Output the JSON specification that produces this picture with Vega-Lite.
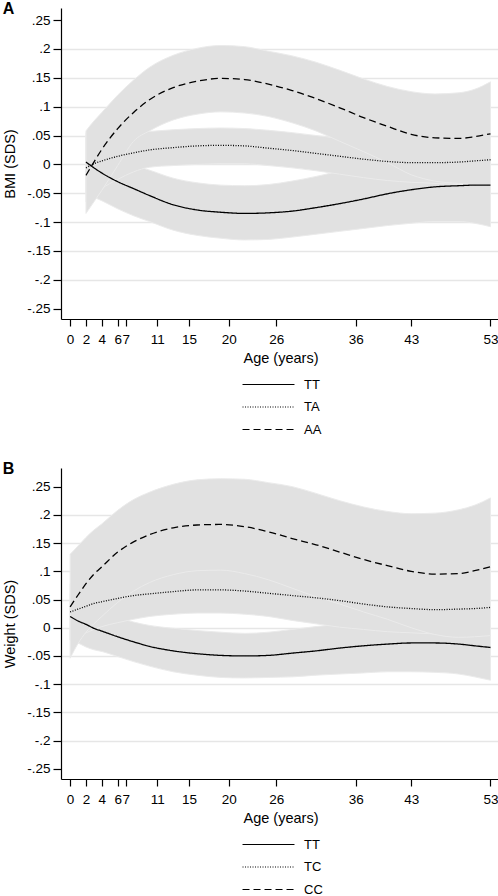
{
  "$schema": "https://vega.github.io/schema/vega-lite/v6.json",
  "background": "white",
  "padding": {"left": 2, "top": 1, "right": 0, "bottom": 0},
  "config": {
    "font": "Liberation Sans",
    "view": {"stroke": null},
    "concat": {"spacing": 24},
    "axis": {
      "domainColor": "black", "tickColor": "black", "labelColor": "black", "titleColor": "black",
      "labelFont": "Liberation Sans", "titleFont": "Liberation Sans",
      "labelFontSize": 13.5, "titleFontSize": 14.5, "titleFontWeight": "normal",
      "domainWidth": 1.2, "tickWidth": 1.2, "grid": false, "labelOverlap": false
    },
    "axisY": {"labelOverlap": false},
    "legend": {"labelFont": "Liberation Sans", "labelColor": "black"},
    "title": {"font": "Liberation Sans", "fontSize": 16, "fontWeight": "bold", "color": "black", "anchor": "start", "frame": "bounds", "offset": -9, "baseline": "alphabetic"}
  },
  "datasets": {
    "A": [
      {"a":2,"g":"TT","m":0.004,"lo":-0.050,"hi":0.055},
      {"a":3,"g":"TT","m":-0.006,"lo":-0.057,"hi":0.042},
      {"a":4,"g":"TT","m":-0.015,"lo":-0.063,"hi":0.030},
      {"a":6,"g":"TT","m":-0.030,"lo":-0.077,"hi":0.012},
      {"a":8,"g":"TT","m":-0.042,"lo":-0.089,"hi":-0.001},
      {"a":10,"g":"TT","m":-0.054,"lo":-0.099,"hi":-0.010},
      {"a":13,"g":"TT","m":-0.070,"lo":-0.114,"hi":-0.024},
      {"a":16,"g":"TT","m":-0.079,"lo":-0.123,"hi":-0.032},
      {"a":19,"g":"TT","m":-0.083,"lo":-0.128,"hi":-0.036},
      {"a":22,"g":"TT","m":-0.085,"lo":-0.131,"hi":-0.037},
      {"a":25,"g":"TT","m":-0.084,"lo":-0.130,"hi":-0.035},
      {"a":28,"g":"TT","m":-0.081,"lo":-0.126,"hi":-0.029},
      {"a":31,"g":"TT","m":-0.075,"lo":-0.121,"hi":-0.021},
      {"a":34,"g":"TT","m":-0.068,"lo":-0.116,"hi":-0.012},
      {"a":37,"g":"TT","m":-0.060,"lo":-0.111,"hi":-0.005},
      {"a":40,"g":"TT","m":-0.051,"lo":-0.106,"hi":0.002},
      {"a":43,"g":"TT","m":-0.044,"lo":-0.102,"hi":0.009},
      {"a":46,"g":"TT","m":-0.039,"lo":-0.099,"hi":0.016},
      {"a":49,"g":"TT","m":-0.037,"lo":-0.099,"hi":0.023},
      {"a":51,"g":"TT","m":-0.036,"lo":-0.102,"hi":0.028},
      {"a":53,"g":"TT","m":-0.036,"lo":-0.108,"hi":0.034},
      {"a":2,"g":"TA","m":-0.006,"lo":-0.065,"hi":0.050},
      {"a":3,"g":"TA","m":0.001,"lo":-0.053,"hi":0.052},
      {"a":4,"g":"TA","m":0.006,"lo":-0.042,"hi":0.054},
      {"a":6,"g":"TA","m":0.014,"lo":-0.026,"hi":0.055},
      {"a":8,"g":"TA","m":0.020,"lo":-0.013,"hi":0.055},
      {"a":10,"g":"TA","m":0.025,"lo":-0.005,"hi":0.057},
      {"a":13,"g":"TA","m":0.029,"lo":-0.002,"hi":0.060},
      {"a":16,"g":"TA","m":0.032,"lo":0.000,"hi":0.062},
      {"a":19,"g":"TA","m":0.033,"lo":0.001,"hi":0.063},
      {"a":22,"g":"TA","m":0.032,"lo":0.001,"hi":0.062},
      {"a":25,"g":"TA","m":0.028,"lo":-0.002,"hi":0.059},
      {"a":28,"g":"TA","m":0.024,"lo":-0.006,"hi":0.055},
      {"a":31,"g":"TA","m":0.019,"lo":-0.011,"hi":0.050},
      {"a":34,"g":"TA","m":0.014,"lo":-0.017,"hi":0.045},
      {"a":37,"g":"TA","m":0.009,"lo":-0.023,"hi":0.040},
      {"a":40,"g":"TA","m":0.005,"lo":-0.028,"hi":0.037},
      {"a":43,"g":"TA","m":0.003,"lo":-0.031,"hi":0.036},
      {"a":46,"g":"TA","m":0.003,"lo":-0.033,"hi":0.037},
      {"a":49,"g":"TA","m":0.004,"lo":-0.035,"hi":0.042},
      {"a":51,"g":"TA","m":0.006,"lo":-0.036,"hi":0.047},
      {"a":53,"g":"TA","m":0.008,"lo":-0.037,"hi":0.053},
      {"a":2,"g":"AA","m":-0.019,"lo":-0.085,"hi":0.058},
      {"a":3,"g":"AA","m":0.004,"lo":-0.065,"hi":0.075},
      {"a":4,"g":"AA","m":0.026,"lo":-0.045,"hi":0.090},
      {"a":6,"g":"AA","m":0.062,"lo":-0.002,"hi":0.120},
      {"a":8,"g":"AA","m":0.090,"lo":0.040,"hi":0.146},
      {"a":10,"g":"AA","m":0.112,"lo":0.058,"hi":0.168},
      {"a":13,"g":"AA","m":0.133,"lo":0.077,"hi":0.189},
      {"a":16,"g":"AA","m":0.144,"lo":0.087,"hi":0.201},
      {"a":19,"g":"AA","m":0.149,"lo":0.091,"hi":0.206},
      {"a":22,"g":"AA","m":0.147,"lo":0.089,"hi":0.204},
      {"a":25,"g":"AA","m":0.139,"lo":0.083,"hi":0.196},
      {"a":28,"g":"AA","m":0.128,"lo":0.072,"hi":0.188},
      {"a":31,"g":"AA","m":0.114,"lo":0.058,"hi":0.177},
      {"a":34,"g":"AA","m":0.098,"lo":0.040,"hi":0.163},
      {"a":37,"g":"AA","m":0.081,"lo":0.022,"hi":0.148},
      {"a":40,"g":"AA","m":0.066,"lo":0.003,"hi":0.135},
      {"a":43,"g":"AA","m":0.052,"lo":-0.018,"hi":0.126},
      {"a":46,"g":"AA","m":0.046,"lo":-0.029,"hi":0.122},
      {"a":49,"g":"AA","m":0.045,"lo":-0.033,"hi":0.124},
      {"a":51,"g":"AA","m":0.048,"lo":-0.035,"hi":0.130},
      {"a":53,"g":"AA","m":0.053,"lo":-0.036,"hi":0.143}
    ],
    "B": [
      {"a":0,"g":"TT","m":0.020,"lo":-0.022,"hi":0.060},
      {"a":1,"g":"TT","m":0.012,"lo":-0.027,"hi":0.051},
      {"a":2,"g":"TT","m":0.006,"lo":-0.034,"hi":0.043},
      {"a":3,"g":"TT","m":-0.001,"lo":-0.039,"hi":0.034},
      {"a":4,"g":"TT","m":-0.006,"lo":-0.042,"hi":0.028},
      {"a":6,"g":"TT","m":-0.016,"lo":-0.051,"hi":0.018},
      {"a":8,"g":"TT","m":-0.025,"lo":-0.060,"hi":0.010},
      {"a":10,"g":"TT","m":-0.033,"lo":-0.068,"hi":0.004},
      {"a":13,"g":"TT","m":-0.041,"lo":-0.078,"hi":-0.001},
      {"a":16,"g":"TT","m":-0.046,"lo":-0.084,"hi":-0.005},
      {"a":19,"g":"TT","m":-0.049,"lo":-0.088,"hi":-0.008},
      {"a":22,"g":"TT","m":-0.050,"lo":-0.089,"hi":-0.010},
      {"a":25,"g":"TT","m":-0.049,"lo":-0.088,"hi":-0.008},
      {"a":28,"g":"TT","m":-0.045,"lo":-0.087,"hi":-0.003},
      {"a":31,"g":"TT","m":-0.041,"lo":-0.084,"hi":0.002},
      {"a":34,"g":"TT","m":-0.036,"lo":-0.082,"hi":0.006},
      {"a":37,"g":"TT","m":-0.032,"lo":-0.080,"hi":0.010},
      {"a":40,"g":"TT","m":-0.029,"lo":-0.078,"hi":0.014},
      {"a":43,"g":"TT","m":-0.027,"lo":-0.078,"hi":0.017},
      {"a":46,"g":"TT","m":-0.027,"lo":-0.079,"hi":0.019},
      {"a":49,"g":"TT","m":-0.029,"lo":-0.082,"hi":0.021},
      {"a":51,"g":"TT","m":-0.032,"lo":-0.087,"hi":0.022},
      {"a":53,"g":"TT","m":-0.035,"lo":-0.093,"hi":0.023},
      {"a":0,"g":"TC","m":0.028,"lo":-0.022,"hi":0.078},
      {"a":1,"g":"TC","m":0.033,"lo":-0.016,"hi":0.080},
      {"a":2,"g":"TC","m":0.038,"lo":-0.009,"hi":0.083},
      {"a":3,"g":"TC","m":0.043,"lo":-0.003,"hi":0.086},
      {"a":4,"g":"TC","m":0.046,"lo":0.002,"hi":0.088},
      {"a":6,"g":"TC","m":0.052,"lo":0.009,"hi":0.094},
      {"a":8,"g":"TC","m":0.057,"lo":0.015,"hi":0.098},
      {"a":10,"g":"TC","m":0.060,"lo":0.020,"hi":0.101},
      {"a":13,"g":"TC","m":0.064,"lo":0.024,"hi":0.105},
      {"a":16,"g":"TC","m":0.067,"lo":0.026,"hi":0.108},
      {"a":19,"g":"TC","m":0.067,"lo":0.026,"hi":0.108},
      {"a":22,"g":"TC","m":0.065,"lo":0.024,"hi":0.106},
      {"a":25,"g":"TC","m":0.061,"lo":0.020,"hi":0.102},
      {"a":28,"g":"TC","m":0.057,"lo":0.013,"hi":0.100},
      {"a":31,"g":"TC","m":0.053,"lo":0.007,"hi":0.097},
      {"a":34,"g":"TC","m":0.048,"lo":0.001,"hi":0.093},
      {"a":37,"g":"TC","m":0.042,"lo":-0.003,"hi":0.088},
      {"a":40,"g":"TC","m":0.037,"lo":-0.007,"hi":0.083},
      {"a":43,"g":"TC","m":0.034,"lo":-0.009,"hi":0.080},
      {"a":46,"g":"TC","m":0.032,"lo":-0.011,"hi":0.078},
      {"a":49,"g":"TC","m":0.033,"lo":-0.012,"hi":0.079},
      {"a":51,"g":"TC","m":0.034,"lo":-0.012,"hi":0.081},
      {"a":53,"g":"TC","m":0.036,"lo":-0.012,"hi":0.084},
      {"a":0,"g":"CC","m":0.037,"lo":-0.054,"hi":0.130},
      {"a":1,"g":"CC","m":0.058,"lo":-0.028,"hi":0.145},
      {"a":2,"g":"CC","m":0.078,"lo":-0.008,"hi":0.160},
      {"a":3,"g":"CC","m":0.095,"lo":0.007,"hi":0.173},
      {"a":4,"g":"CC","m":0.108,"lo":0.020,"hi":0.184},
      {"a":6,"g":"CC","m":0.134,"lo":0.045,"hi":0.208},
      {"a":8,"g":"CC","m":0.152,"lo":0.065,"hi":0.227},
      {"a":10,"g":"CC","m":0.165,"lo":0.080,"hi":0.240},
      {"a":13,"g":"CC","m":0.177,"lo":0.094,"hi":0.254},
      {"a":16,"g":"CC","m":0.182,"lo":0.101,"hi":0.262},
      {"a":19,"g":"CC","m":0.183,"lo":0.102,"hi":0.264},
      {"a":22,"g":"CC","m":0.179,"lo":0.096,"hi":0.263},
      {"a":25,"g":"CC","m":0.170,"lo":0.085,"hi":0.257},
      {"a":28,"g":"CC","m":0.158,"lo":0.070,"hi":0.250},
      {"a":31,"g":"CC","m":0.147,"lo":0.055,"hi":0.238},
      {"a":34,"g":"CC","m":0.134,"lo":0.042,"hi":0.225},
      {"a":37,"g":"CC","m":0.121,"lo":0.028,"hi":0.214},
      {"a":40,"g":"CC","m":0.110,"lo":0.015,"hi":0.206},
      {"a":43,"g":"CC","m":0.100,"lo":0.000,"hi":0.202},
      {"a":46,"g":"CC","m":0.095,"lo":-0.012,"hi":0.203},
      {"a":49,"g":"CC","m":0.096,"lo":-0.017,"hi":0.209},
      {"a":51,"g":"CC","m":0.101,"lo":-0.016,"hi":0.217},
      {"a":53,"g":"CC","m":0.108,"lo":-0.014,"hi":0.230}
    ]
  },
  "resolve": {"scale": {"x": "independent", "y": "independent", "strokeDash": "independent"}, "legend": {"strokeDash": "independent"}},
  "vconcat": [
    {
      "title": {"text": "A"},
      "width": 439,
      "height": 311,
      "data": {"name": "A"},
      "encoding": {
        "x": {
          "field": "a", "type": "quantitative", "title": "Age (years)",
          "scale": {"domain": [-1.15, 54.2], "nice": false, "zero": false},
          "axis": {"values": [0, 2, 4, 6, 7, 11, 15, 20, 26, 36, 43, 53], "labelOverlap": false, "labelFlush": false, "tickSize": 7, "labelPadding": 6, "titlePadding": 6, "grid": false}
        }
      },
      "layer": [
        {
          "mark": {"type": "area", "interpolate": "monotone", "fill": "#e1e1e1", "stroke": "#ebebeb", "strokeWidth": 1},
          "encoding": {
            "y": {
              "field": "lo", "type": "quantitative", "title": "BMI (SDS)",
              "scale": {"domain": [-0.268, 0.271], "nice": false, "zero": false},
              "axis": {
                "values": [-0.25, -0.2, -0.15, -0.1, -0.05, 0, 0.05, 0.1, 0.15, 0.2, 0.25],
                "labelExpr": "datum.value == 0 ? '0' : (datum.value < 0 ? '-' : '') + replace(format(abs(datum.value), '.2~f'), '0.', '.')",
                "labelOverlap": false, "labelFlush": false, "labelBound": false,
                "tickSize": 8, "labelPadding": 3, "titlePadding": 9,
                "grid": true, "gridColor": "#e6e6e6", "gridWidth": 1.3,
                "gridOpacity": {"condition": {"test": "abs(datum.value) > 0.24", "value": 0}, "value": 1}
              }
            },
            "y2": {"field": "hi"},
            "detail": {"field": "g"}
          }
        },
        {
          "mark": {"type": "line", "interpolate": "monotone", "color": "black", "strokeWidth": 1.3},
          "encoding": {
            "y": {
              "field": "m", "type": "quantitative", "title": "BMI (SDS)",
              "scale": {"domain": [-0.268, 0.271], "nice": false, "zero": false},
              "axis": {
                "values": [-0.25, -0.2, -0.15, -0.1, -0.05, 0, 0.05, 0.1, 0.15, 0.2, 0.25],
                "labelExpr": "datum.value == 0 ? '0' : (datum.value < 0 ? '-' : '') + replace(format(abs(datum.value), '.2~f'), '0.', '.')",
                "labelOverlap": false, "labelFlush": false, "labelBound": false,
                "tickSize": 8, "labelPadding": 3, "titlePadding": 9,
                "grid": true, "gridColor": "#e6e6e6", "gridWidth": 1.3,
                "gridOpacity": {"condition": {"test": "abs(datum.value) > 0.24", "value": 0}, "value": 1}
              }
            },
            "strokeDash": {
              "field": "g", "type": "nominal",
              "scale": {"domain": ["TT", "TA", "AA"], "range": [[1, 0], [1, 1.5], [7, 4]]},
              "legend": {"title": null, "orient": "none", "legendX": 201, "legendY": 370, "padding": 0,
                "symbolType": "M-5,0H5", "symbolSize": 108, "symbolStrokeColor": "black", "symbolStrokeWidth": 1.2,
                "labelOffset": 29, "labelFontSize": 13, "rowPadding": 8.5}
            }
          }
        }
      ]
    },
    {
      "title": {"text": "B"},
      "width": 439,
      "height": 311,
      "data": {"name": "B"},
      "encoding": {
        "x": {
          "field": "a", "type": "quantitative", "title": "Age (years)",
          "scale": {"domain": [-1.15, 54.2], "nice": false, "zero": false},
          "axis": {"values": [0, 2, 4, 6, 7, 11, 15, 20, 26, 36, 43, 53], "labelOverlap": false, "labelFlush": false, "tickSize": 7, "labelPadding": 6, "titlePadding": 6, "grid": false}
        }
      },
      "layer": [
        {
          "mark": {"type": "area", "interpolate": "monotone", "fill": "#e1e1e1", "stroke": "#ebebeb", "strokeWidth": 1},
          "encoding": {
            "y": {
              "field": "lo", "type": "quantitative", "title": "Weight (SDS)",
              "scale": {"domain": [-0.268, 0.283], "nice": false, "zero": false},
              "axis": {
                "values": [-0.25, -0.2, -0.15, -0.1, -0.05, 0, 0.05, 0.1, 0.15, 0.2, 0.25],
                "labelExpr": "datum.value == 0 ? '0' : (datum.value < 0 ? '-' : '') + replace(format(abs(datum.value), '.2~f'), '0.', '.')",
                "labelOverlap": false, "labelFlush": false, "labelBound": false,
                "tickSize": 8, "labelPadding": 3, "titlePadding": 9,
                "grid": true, "gridColor": "#e6e6e6", "gridWidth": 1.3,
                "gridOpacity": {"condition": {"test": "abs(datum.value) > 0.24", "value": 0}, "value": 1}
              }
            },
            "y2": {"field": "hi"},
            "detail": {"field": "g"}
          }
        },
        {
          "mark": {"type": "line", "interpolate": "monotone", "color": "black", "strokeWidth": 1.3},
          "encoding": {
            "y": {
              "field": "m", "type": "quantitative", "title": "Weight (SDS)",
              "scale": {"domain": [-0.268, 0.283], "nice": false, "zero": false},
              "axis": {
                "values": [-0.25, -0.2, -0.15, -0.1, -0.05, 0, 0.05, 0.1, 0.15, 0.2, 0.25],
                "labelExpr": "datum.value == 0 ? '0' : (datum.value < 0 ? '-' : '') + replace(format(abs(datum.value), '.2~f'), '0.', '.')",
                "labelOverlap": false, "labelFlush": false, "labelBound": false,
                "tickSize": 8, "labelPadding": 3, "titlePadding": 9,
                "grid": true, "gridColor": "#e6e6e6", "gridWidth": 1.3,
                "gridOpacity": {"condition": {"test": "abs(datum.value) > 0.24", "value": 0}, "value": 1}
              }
            },
            "strokeDash": {
              "field": "g", "type": "nominal",
              "scale": {"domain": ["TT", "TC", "CC"], "range": [[1, 0], [1, 1.5], [7, 4]]},
              "legend": {"title": null, "orient": "none", "legendX": 201, "legendY": 370, "padding": 0,
                "symbolType": "M-5,0H5", "symbolSize": 108, "symbolStrokeColor": "black", "symbolStrokeWidth": 1.2,
                "labelOffset": 29, "labelFontSize": 13, "rowPadding": 8.5}
            }
          }
        }
      ]
    }
  ]
}
